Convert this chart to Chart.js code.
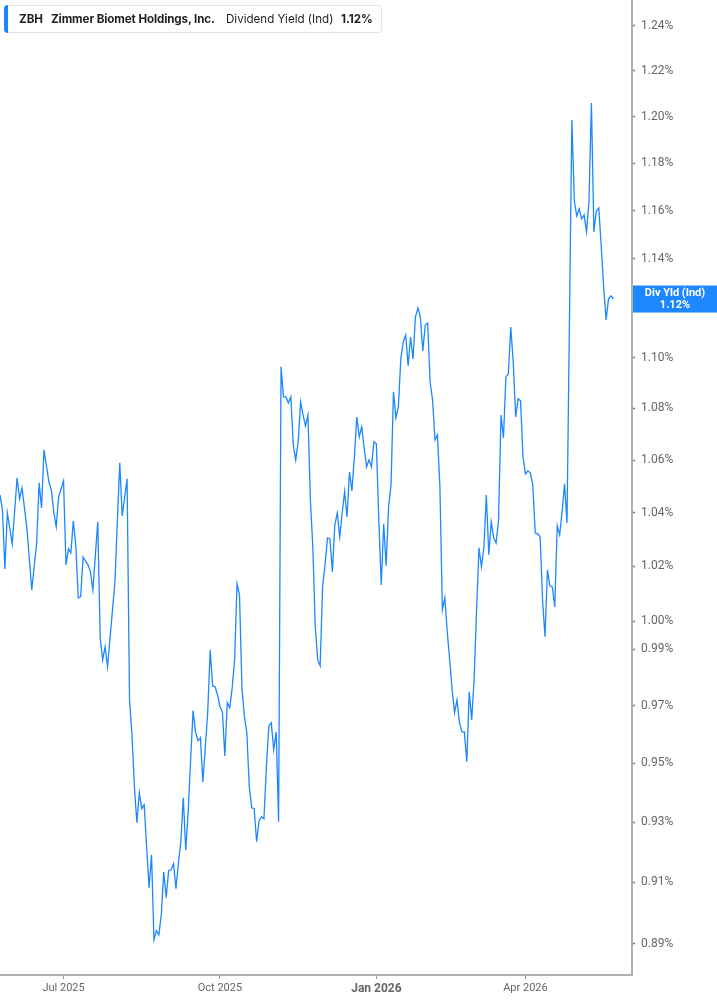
<!DOCTYPE html>
<html><head><meta charset="utf-8">
<script src="https://cdn.jsdelivr.net/npm/chart.js@4.4.1/dist/chart.umd.min.js"></script>
<style>
html,body{margin:0;padding:0;background:#fff;}
#wrap{position:relative;width:717px;height:1005px;overflow:hidden;}
#c{position:absolute;left:0;top:0;}
#legend{position:absolute;left:4px;top:5px;height:28px;width:378px;box-sizing:border-box;border:1px solid #e4e4e4;border-radius:4px;background:#fff;font-family:Inter,"Noto Sans",sans-serif;font-size:11.6px;color:#1f1f1f;}
#legend .bar{position:absolute;left:-1px;top:-1px;bottom:-1px;width:4px;background:#1a85ff;border-radius:4px 0 0 4px;}
#legend span.t{position:absolute;top:6px;white-space:nowrap;line-height:15px;}
</style></head>
<body>
<div id="wrap">
<canvas id="c" width="717" height="1005"></canvas>
<div id="legend"><div class="bar"></div>
<span class="t" id="lgTicker" style="left:14px;font-weight:700"></span>
<span class="t" id="lgName" style="left:46px;font-weight:700;letter-spacing:-0.1px"></span>
<span class="t" id="lgMetric" style="left:221px;font-weight:400"></span>
<span class="t" id="lgValue" style="left:336px;font-weight:700"></span>
</div>
</div>
<script>
// ---- data ----
const ticker = 'ZBH';
const companyName = 'Zimmer Biomet Holdings, Inc.';
const metricName = 'Dividend Yield (Ind)';
const tagName = 'Div Yld (Ind)';
// trading-day index from late May 2025
const days = [0,1,2,3,5,7,8,9,11,13,15,16,17,18,20,21,22,23,24,26,27,28,29,30,31,32,33,34,36,37,38,40,41,42,43,44,47,49,50,52,
53,54,55,56,57,58,59,60,61,62,63,64,65,66,67,68,69,70,71,72,73,74,75,76,77,78,79,80,81,82,83,84,85,86,87,88,89,90,91,92,93,94,95,96,97,98,99,100,
101,102,103,104,105,106,107,108,109,110,111,112,113,114,115,116,117,118,119,120,121,122,123,124,125,126,127,128,129,130,131,132,133,134,135,136,137,138,139,140,
141,142,143,144,145,146,147,148,149,150,151,152,153,154,155,156,157,158,159,160,161,162,163,164,165,166,167,168,169,170,171,172,173,174,175,176,177,178,179,180,
181,182,183,184,185,186,187,188,189,190,191,192,193,194,195,196,197,198,199,200,201,202,203,204,205,206,207,208,209,210,211,212,213,214,215,216,217,218,219,220,
221,222,223,224,225,226,227,228,229,230,231,232,234,235,236,237,238,239,240,241,242,243,244,245,246,247,248,249,250,251];
// dividend yield, %
const yields = [1.0467,1.0411,1.0191,1.0399,1.0284,1.0532,1.0452,1.0494,1.0343,1.0114,1.0287,1.0513,1.0418,1.0639,1.0517,1.0486,1.0403,1.0347,1.0460,1.0520,
1.0206,1.0265,1.0250,1.0369,1.0280,1.0085,1.0089,1.0235,1.0206,1.0180,1.0114,1.0366,0.9940,0.9862,0.9908,0.9837,1.0140,1.0589,1.0388,1.0528,
0.9720,0.9598,0.9419,0.9298,0.9399,0.9345,0.9358,0.9217,0.9082,0.9191,0.8913,0.8942,0.8929,0.8994,0.9134,0.9049,0.9138,0.9141,0.9161,0.9079,
0.9164,0.9234,0.9382,0.9207,0.9335,0.9512,0.9682,0.9608,0.9577,0.9588,0.9436,0.9553,0.9678,0.9897,0.9769,0.9766,0.9738,0.9696,0.9678,0.9525,
0.9710,0.9692,0.9762,0.9862,1.0136,1.0096,0.9762,0.9661,0.9605,0.9419,0.9348,0.9345,0.9234,0.9304,0.9318,0.9311,0.9488,0.9629,0.9640,0.9546,
0.9608,0.9301,1.0963,1.0845,1.0845,1.0821,1.0845,1.0658,1.0600,1.0670,1.0825,1.0774,1.0731,1.0774,1.0448,1.0272,0.9980,0.9862,0.9840,1.0125,
1.0206,1.0306,1.0302,1.0180,1.0354,1.0399,1.0310,1.0399,1.0479,1.0384,1.0555,1.0482,1.0612,1.0766,1.0689,1.0728,1.0647,1.0574,1.0600,1.0574,
1.0670,1.0662,1.0373,1.0132,1.0358,1.0202,1.0422,1.0505,1.0864,1.0763,1.0805,1.0994,1.1062,1.1090,1.0967,1.1082,1.0994,1.1163,1.1199,1.1163,
1.1026,1.1130,1.1138,1.0903,1.0833,1.0677,1.0697,1.0498,1.0041,1.0085,0.9962,0.9862,0.9755,0.9675,0.9720,0.9640,0.9608,0.9608,0.9505,0.9748,
0.9650,0.9791,1.0041,1.0269,1.0199,1.0272,1.0467,1.0243,1.0366,1.0306,1.0287,1.0373,1.0774,1.0685,1.0923,1.0935,1.1122,1.0982,1.0766,1.0837,
1.0829,1.0612,1.0547,1.0558,1.0551,1.0505,1.0325,1.0321,1.0310,1.0078,0.9944,1.0187,1.0129,1.0125,1.0052,1.0351,1.0317,1.0403,1.0509,1.0362,
1.1986,1.1640,1.1577,1.1607,1.1565,1.1582,1.1511,1.1640,1.2060,1.1511,1.1598,1.1611,1.1453,1.1284,1.1150,1.1235,1.1248,1.1235];
const yTickValues = [0.89,0.91,0.93,0.95,0.97,0.99,1.00,1.02,1.04,1.06,1.08,1.10,1.12,1.14,1.16,1.18,1.20,1.22,1.24];
const xTickDays = [26,90,154,215];
const xTickLabels = ['Jul 2025','Oct 2025','Jan 2026','Apr 2026'];
const boldXTick = 'Jan 2026';
const yMin = 0.8804, yMax = 1.2517;
const xMin = 0, xMax = 258.6;

// ---- legend ----
const lastVal = yields[yields.length-1];
document.getElementById('lgTicker').textContent = ticker;
document.getElementById('lgName').textContent = companyName;
document.getElementById('lgMetric').textContent = metricName;
document.getElementById('lgValue').textContent = lastVal.toFixed(2) + '%';

const LINE = '#1c87ff';
const tickFont = 'Roboto, "Liberation Sans", Arial, sans-serif';

const tagPlugin = {
  id: 'valueTag',
  afterDraw(chart) {
    const ctx = chart.ctx;
    const ys = chart.scales.y;
    const y = ys.getPixelForValue(lastVal);
    const x0 = chart.chartArea.right + 1;
    const w = chart.width - x0;
    ctx.save();
    ctx.fillStyle = LINE;
    ctx.fillRect(x0, y - 13.5, w, 27);
    ctx.fillStyle = '#fff';
    ctx.font = 'bold 11px ' + tickFont;
    ctx.textAlign = 'center';
    ctx.textBaseline = 'middle';
    const cx = x0 + w / 2;
    ctx.fillText(tagName, cx, y - 6);
    ctx.fillText(lastVal.toFixed(2) + '%', cx, y + 6.5);
    ctx.restore();
  }
};

new Chart(document.getElementById('c'), {
  type: 'line',
  data: {
    datasets: [{
      label: tagName,
      data: days.map((d, i) => ({x: d, y: yields[i]})),
      borderColor: LINE,
      borderWidth: 1.3,
      pointRadius: 0,
      tension: 0,
      fill: false
    }]
  },
  options: {
    responsive: false,
    animation: false,
    devicePixelRatio: 1,
    layout: {padding: 0},
    plugins: {legend: {display: false}, tooltip: {enabled: false}},
    scales: {
      x: {
        type: 'linear', min: xMin, max: xMax, position: 'bottom',
        afterBuildTicks: s => { s.ticks = xTickDays.map(v => ({value: v})); },
        afterFit: s => { s.height = 30; s.paddingLeft = 0; s.paddingRight = 0; },
        grid: {drawOnChartArea: false, drawTicks: true, tickLength: 4, color: '#9a9a9a', tickWidth: 1},
        border: {display: true, color: '#b0b0b0', width: 2},
        ticks: {
          autoSkip: false, maxRotation: 0, padding: 3, color: '#666',
          font: ctx => ({family: tickFont, size: ctx.tick && xTickLabels[xTickDays.indexOf(ctx.tick.value)] === boldXTick ? 12 : 11,
                         weight: ctx.tick && xTickLabels[xTickDays.indexOf(ctx.tick.value)] === boldXTick ? 'bold' : 'normal'}),
          callback: v => xTickLabels[xTickDays.indexOf(v)]
        }
      },
      y: {
        type: 'logarithmic', position: 'right', min: yMin, max: yMax,
        afterBuildTicks: s => { s.ticks = yTickValues.map(v => ({value: v})); },
        afterFit: s => { s.width = 85; s.paddingTop = 0; s.paddingBottom = 0; },
        grid: {drawOnChartArea: false, drawTicks: true, tickLength: 3, color: '#777', tickWidth: 1.5},
        border: {display: true, color: '#b0b0b0', width: 2},
        ticks: {
          autoSkip: false, padding: 6, color: '#666',
          font: {family: tickFont, size: 12},
          callback: v => v.toFixed(2) + '%'
        }
      }
    }
  },
  plugins: [tagPlugin]
});
</script>
</body></html>
